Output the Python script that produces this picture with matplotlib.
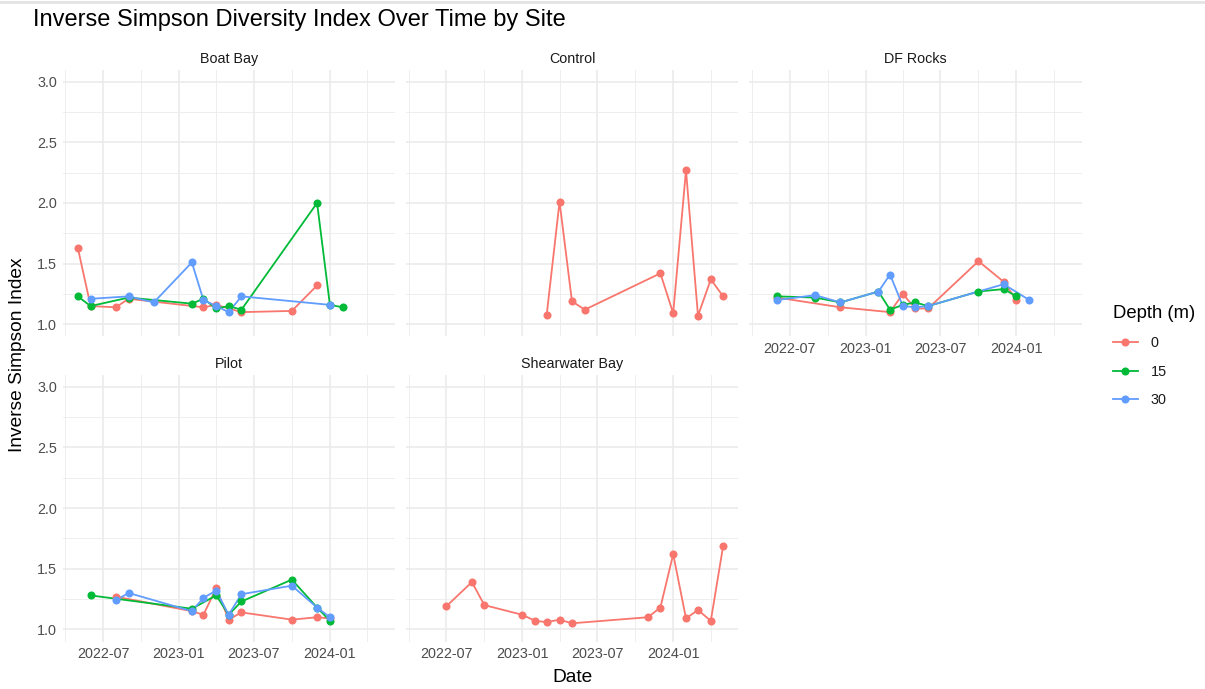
import matplotlib
matplotlib.use("Agg")
import matplotlib.pyplot as plt
import matplotlib.dates as mdates
from matplotlib.lines import Line2D
import numpy as np
import datetime as dt

plt.rcParams["font.family"] = ["Liberation Sans", "DejaVu Sans"]

# ---- data: sampling dates (YYYY-MM-DD) and inverse Simpson index ----
site_names = ["Boat Bay", "Control", "DF Rocks", "Pilot", "Shearwater Bay"]
depth_levels = ["0", "15", "30"]
depth_colors = ["#F8766D", "#00BA38", "#619CFF"]

boat_bay_0_dates = ["2022-05-01", "2022-06-01", "2022-08-01", "2022-09-01", "2023-03-01",
                    "2023-04-01", "2023-06-01", "2023-10-01", "2023-12-01"]
boat_bay_0_vals = [1.63, 1.15, 1.14, 1.21, 1.14, 1.16, 1.10, 1.11, 1.32]
boat_bay_15_dates = ["2022-05-01", "2022-06-01", "2022-09-01", "2023-02-01", "2023-03-01",
                     "2023-04-01", "2023-05-01", "2023-06-01", "2023-12-01", "2024-01-01",
                     "2024-02-01"]
boat_bay_15_vals = [1.23, 1.15, 1.22, 1.17, 1.21, 1.13, 1.15, 1.12, 2.00, 1.16, 1.14]
boat_bay_30_dates = ["2022-06-01", "2022-09-01", "2022-11-01", "2023-02-01", "2023-03-01",
                     "2023-04-01", "2023-05-01", "2023-06-01", "2024-01-01"]
boat_bay_30_vals = [1.21, 1.23, 1.18, 1.51, 1.20, 1.15, 1.10, 1.23, 1.16]

control_0_dates = ["2023-03-01", "2023-04-01", "2023-05-01", "2023-06-01", "2023-12-01",
                   "2024-01-01", "2024-02-01", "2024-03-01", "2024-04-01", "2024-05-01"]
control_0_vals = [1.08, 2.01, 1.19, 1.12, 1.42, 1.09, 2.27, 1.07, 1.37, 1.23]

df_rocks_0_dates = ["2022-06-01", "2022-11-01", "2023-03-01", "2023-04-01", "2023-05-01",
                    "2023-06-01", "2023-10-01", "2023-12-01", "2024-01-01"]
df_rocks_0_vals = [1.22, 1.14, 1.10, 1.25, 1.13, 1.13, 1.52, 1.35, 1.20]
df_rocks_15_dates = ["2022-06-01", "2022-09-01", "2022-11-01", "2023-02-01", "2023-03-01",
                     "2023-04-01", "2023-05-01", "2023-06-01", "2023-10-01", "2023-12-01",
                     "2024-01-01"]
df_rocks_15_vals = [1.23, 1.22, 1.18, 1.27, 1.12, 1.16, 1.18, 1.15, 1.27, 1.29, 1.23]
df_rocks_30_dates = ["2022-06-01", "2022-09-01", "2022-11-01", "2023-02-01", "2023-03-01",
                     "2023-04-01", "2023-05-01", "2023-06-01", "2023-12-01", "2024-02-01"]
df_rocks_30_vals = [1.20, 1.24, 1.18, 1.27, 1.41, 1.15, 1.14, 1.15, 1.33, 1.20]

pilot_0_dates = ["2022-08-01", "2023-02-01", "2023-03-01", "2023-04-01", "2023-05-01",
                 "2023-06-01", "2023-10-01", "2023-12-01", "2024-01-01"]
pilot_0_vals = [1.27, 1.15, 1.12, 1.34, 1.08, 1.14, 1.08, 1.10, 1.09]
pilot_15_dates = ["2022-06-01", "2023-02-01", "2023-04-01", "2023-05-01", "2023-06-01",
                  "2023-10-01", "2023-12-01", "2024-01-01"]
pilot_15_vals = [1.28, 1.17, 1.28, 1.12, 1.23, 1.41, 1.18, 1.07]
pilot_30_dates = ["2022-08-01", "2022-09-01", "2023-02-01", "2023-03-01", "2023-04-01",
                  "2023-05-01", "2023-06-01", "2023-10-01", "2023-12-01", "2024-01-01"]
pilot_30_vals = [1.24, 1.30, 1.15, 1.26, 1.32, 1.12, 1.29, 1.36, 1.18, 1.10]

shearwater_0_dates = ["2022-07-01", "2022-09-01", "2022-10-01", "2023-01-01", "2023-02-01",
                      "2023-03-01", "2023-04-01", "2023-05-01", "2023-11-01", "2023-12-01",
                      "2024-01-01", "2024-02-01", "2024-03-01", "2024-04-01", "2024-05-01"]
shearwater_0_vals = [1.19, 1.39, 1.20, 1.12, 1.07, 1.06, 1.08, 1.05, 1.10, 1.18,
                     1.62, 1.09, 1.16, 1.07, 1.69]

series = {
    "Boat Bay": {"0": (boat_bay_0_dates, boat_bay_0_vals),
                 "15": (boat_bay_15_dates, boat_bay_15_vals),
                 "30": (boat_bay_30_dates, boat_bay_30_vals)},
    "Control": {"0": (control_0_dates, control_0_vals)},
    "DF Rocks": {"0": (df_rocks_0_dates, df_rocks_0_vals),
                 "15": (df_rocks_15_dates, df_rocks_15_vals),
                 "30": (df_rocks_30_dates, df_rocks_30_vals)},
    "Pilot": {"0": (pilot_0_dates, pilot_0_vals),
              "15": (pilot_15_dates, pilot_15_vals),
              "30": (pilot_30_dates, pilot_30_vals)},
    "Shearwater Bay": {"0": (shearwater_0_dates, shearwater_0_vals)},
}

major_x = ["2022-07-01", "2023-01-01", "2023-07-01", "2024-01-01"]
minor_x = ["2022-04-01", "2022-10-01", "2023-04-01", "2023-10-01", "2024-04-01"]
major_y = [1.0, 1.5, 2.0, 2.5, 3.0]
minor_y = [1.25, 1.75, 2.25, 2.75]
y_limits = (1.0, 3.0)


def to_num(dates):
    return mdates.date2num([dt.datetime.strptime(d, "%Y-%m-%d") for d in dates])


# shared x range with 5% padding on each side
all_dates = np.concatenate([to_num(d) for s in series.values() for d, _ in s.values()])
xmin, xmax = all_dates.min(), all_dates.max()
xpad = 0.05 * (xmax - xmin)
ypad = 0.05 * (y_limits[1] - y_limits[0])

W, H = 1205, 689
fig = plt.figure(figsize=(W / 100, H / 100), dpi=100)
fig.patch.set_facecolor("white")

# faint rule along the top edge
fig.add_artist(Line2D([0, 1], [1 - 1.5 / H, 1 - 1.5 / H], transform=fig.transFigure,
                      color="#E3E3E3", lw=2))

# panel geometry in pixels
col_left = [62.7, 406.0, 749.3]
panel_w = 332.3
row_top = [69.5, 374.6]
panel_h = 266.9

grid_col = "#EBEBEB"
text_grey = "#4D4D4D"

for i, site in enumerate(site_names):
    r, c = divmod(i, 3)
    left = col_left[c]
    top = row_top[r]
    ax = fig.add_axes([left / W, 1 - (top + panel_h) / H, panel_w / W, panel_h / H])
    ax.set_facecolor("white")
    for sp in ax.spines.values():
        sp.set_visible(False)
    ax.set_xlim(xmin - xpad, xmax + xpad)
    ax.set_ylim(y_limits[0] - ypad, y_limits[1] + ypad)

    for v in to_num(minor_x):
        ax.axvline(v, color=grid_col, lw=0.6, zorder=0)
    for v in minor_y:
        ax.axhline(v, color=grid_col, lw=0.6, zorder=0)
    for v in to_num(major_x):
        ax.axvline(v, color=grid_col, lw=1.2, zorder=0)
    for v in major_y:
        ax.axhline(v, color=grid_col, lw=1.2, zorder=0)

    ax.set_xticks(to_num(major_x))
    ax.set_yticks(major_y)
    ax.tick_params(length=0, colors=text_grey, labelsize=10.4, pad=4)

    show_x = (r == 1) or (c == 2)
    if show_x:
        ax.set_xticklabels([d[:7] for d in major_x])
    else:
        ax.set_xticklabels([])
    if c == 0:
        ax.set_yticklabels([f"{v:.1f}" for v in major_y])
    else:
        ax.set_yticklabels([])

    ax.set_title(site, fontsize=10.3, color="#1A1A1A", pad=5)

    # lines first, then points, in depth order
    for depth, col in zip(depth_levels, depth_colors):
        if depth in series[site]:
            d, v = series[site][depth]
            ax.plot(to_num(d), v, color=col, lw=1.3, zorder=2, solid_capstyle="butt")
    for depth, col in zip(depth_levels, depth_colors):
        if depth in series[site]:
            d, v = series[site][depth]
            ax.plot(to_num(d), v, ls="none", marker="o", ms=5.8, color=col,
                    markeredgewidth=0, zorder=3)

# titles
fig.text(33 / W, 1 - 20 / H, "Inverse Simpson Diversity Index Over Time by Site",
         fontsize=17, color="black", ha="left", va="center")
fig.text((62.7 + 1081.6) / 2 / W, 1 - 677 / H, "Date", fontsize=13.8, color="black",
         ha="center", va="center")
fig.text(18 / W, 1 - 355 / H, "Inverse Simpson Index", fontsize=13.8, color="black",
         rotation=90, ha="center", va="center")

# legend
handles = [Line2D([0], [0], color=c, lw=1.3, marker="o", ms=5.8, markeredgewidth=0)
           for c in depth_colors]
leg = fig.legend(handles, depth_levels, title="Depth (m)", loc="upper left",
                 bbox_to_anchor=(1100 / W, 1 - 292 / H), frameon=False,
                 fontsize=10.4, title_fontsize=13.3, handlelength=1.7,
                 handletextpad=0.9, labelspacing=1.0, alignment="left")
for t in leg.get_texts():
    t.set_color("#1A1A1A")

fig.savefig("out.png", dpi=100, facecolor="white")
